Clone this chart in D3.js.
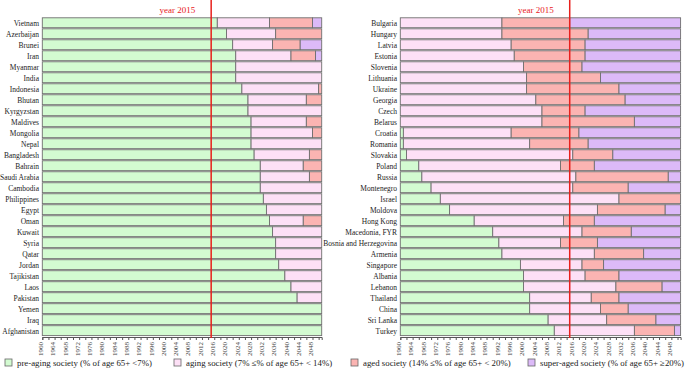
<!DOCTYPE html>
<html>
<head>
<meta charset="utf-8">
<script src="https://cdn.jsdelivr.net/npm/d3@7"></script>
<style>
  body { margin: 0; background: #fff; }
  svg { font-family: "Liberation Serif", "Times New Roman", serif; }
</style>
</head>
<body>
<svg id="canvas" width="685" height="373"></svg>
<script>
// left panel: countries and year each stage begins (null = not reached by 2050)
const leftCountries = ['Vietnam', 'Azerbaijan', 'Brunei', 'Iran', 'Myanmar', 'India', 'Indonesia', 'Bhutan', 'Kyrgyzstan',
  'Maldives', 'Mongolia', 'Nepal', 'Bangladesh', 'Bahrain', 'Saudi Arabia', 'Cambodia', 'Philippines', 'Egypt', 'Oman',
  'Kuwait', 'Syria', 'Qatar', 'Jordan', 'Tajikistan', 'Laos', 'Pakistan', 'Yemen', 'Iraq', 'Afghanistan']
const leftAging = [2017, 2020, 2022, 2023, 2023, 2023, 2025, 2027, 2027, 2028, 2028, 2028, 2029, 2031, 2031, 2031, 2032, 2033, 2034,
  2035, 2036, 2036, 2037, 2039, 2041, 2043, null, null, null]
const leftAged = [2034, 2036, 2035, 2041, null, null, 2050, 2046, null, 2046, 2048, null, 2047, 2045, 2047, null, null, null, 2045,
  null, null, null, null, null, null, null, null, null, null]
const leftSuper = [2048, null, 2044, 2049, null, null, null, null, null, null, null, null, null, null, null, null, null, null, null,
  null, null, null, null, null, null, null, null, null, null]

// right panel
const rightCountries = ['Bulgaria', 'Hungary', 'Latvia', 'Estonia', 'Slovenia', 'Lithuania', 'Ukraine', 'Georgia', 'Czech',
  'Belarus', 'Croatia', 'Romania', 'Slovakia', 'Poland', 'Russia', 'Montenegro', 'Israel', 'Moldova', 'Hong Kong',
  'Macedonia, FYR', 'Bosnia and Herzegovina', 'Armenia', 'Singapore', 'Albania', 'Lebanon', 'Thailand', 'China', 'Sri Lanka', 'Turkey']
const rightAging = [1960, 1960, 1960, 1960, 1960, 1960, 1960, 1960, 1960, 1960, 1961, 1961, 1962, 1966, 1967, 1970, 1973, 1976, 1984,
  1990, 1992, 1993, 1999, 2000, 2000, 2002, 2002, 2008, 2010]
const rightAged = [1993, 1993, 1996, 1997, 2000, 2001, 2001, 2004, 2006, 2006, 1996, 2002, 2016, 2012, 2017, 2016, 2031, 2024, 2013,
  2019, 2012, 2023, 2019, 2020, 2030, 2022, 2025, 2027, 2036]
const rightSuper = [2015, 2021, 2020, 2020, 2019, 2025, 2031, 2033, 2020, 2036, 2018, 2021, 2029, 2023, 2047, 2034, null, 2046, 2023,
  2035, 2024, 2039, 2026, 2031, 2045, 2031, 2034, 2043, 2049]

const startYear = 1960
const endYear = 2051
const markYear = 2015

const colors = ['#d3fbd1', '#fde0f6', '#fbb4b2', '#dcbaf8']
const legendLabels = ['pre-aging society (% of age 65+ <7%)', 'aging society (7% \u2264% of age 65+ < 14%)',
  'aged society (14% \u2264% of age 65+ < 20%)', 'super-aged society (% of age 65+ \u226520%)']

let canvas = d3.select('#canvas')

let segmentsFor = (aging, aged, sup) => {
  let bounds = [startYear, aging, aged, sup]
  let segs = []
  for (let i = 0; i < 4; i++) {
    let s = bounds[i]
    if (s === null || s === undefined) continue
    let e = endYear
    for (let j = i + 1; j < 4; j++) {
      if (bounds[j] !== null) { e = bounds[j]; break }
    }
    if (e > s) segs.push({ stage: i, start: s, end: e })
  }
  return segs
}

let drawPanel = (countries, aging, aged, sup, x0, x1, labelX) => {
  let x = d3.scaleLinear().domain([startYear, endYear]).range([x0, x1])
  let y = d3.scaleBand().domain(countries).range([17.8, 335.6]).paddingInner(0.1)

  let g = canvas.append('g')

  let rows = g.selectAll('g.row')
    .data(countries)
    .enter()
    .append('g')
    .attr('class', 'row')

  rows.selectAll('rect')
    .data((d, i) => segmentsFor(aging[i], aged[i], sup[i]).map(s => ({ ...s, country: d })))
    .enter()
    .append('rect')
    .attr('x', d => x(d.start))
    .attr('width', d => x(d.end) - x(d.start))
    .attr('y', d => y(d.country))
    .attr('height', y.bandwidth())
    .attr('fill', d => colors[d.stage])
    .attr('stroke', '#6f6f6f')
    .attr('stroke-width', 0.9)

  g.selectAll('text.country')
    .data(countries)
    .enter()
    .append('text')
    .attr('class', 'country')
    .attr('x', labelX)
    .attr('y', d => y(d) + y.bandwidth() / 2 + 3)
    .attr('text-anchor', 'end')
    .attr('font-size', 7.5)
    .attr('fill', '#222')
    .text(d => d)

  // x axis
  let axis = d3.axisBottom(x)
    .tickValues(d3.range(startYear, endYear, 2))
    .tickSize(3)
    .tickFormat(d => d % 4 === 0 ? d : '')
  let ax = g.append('g')
    .attr('transform', 'translate(0,337)')
    .call(axis)
  ax.select('.domain').attr('stroke', '#555')
  ax.selectAll('.tick line').attr('stroke', '#555')
  ax.selectAll('.tick text')
    .attr('font-family', '"Liberation Serif", serif')
    .attr('font-size', 7)
    .attr('fill', '#444')
    .attr('transform', 'rotate(-90)')
    .attr('text-anchor', 'end')
    .attr('x', -5)
    .attr('y', -2)
    .attr('dy', '0.32em')

  // year 2015 line
  g.append('line')
    .attr('x1', x(markYear))
    .attr('x2', x(markYear))
    .attr('y1', 0)
    .attr('y2', 338)
    .attr('stroke', '#e8201c')
    .attr('stroke-width', 1.5)

  g.append('text')
    .attr('x', x(markYear) - 16)
    .attr('y', 13)
    .attr('text-anchor', 'end')
    .attr('font-size', 9)
    .attr('fill', '#e8201c')
    .text('year ' + markYear)
}

let drawLegend = () => {
  let xs = [5, 174, 351, 528]
  let lg = canvas.append('g')
  lg.selectAll('rect')
    .data(colors)
    .enter()
    .append('rect')
    .attr('x', (d, i) => xs[i])
    .attr('y', 359)
    .attr('width', 7)
    .attr('height', 7)
    .attr('fill', d => d)
    .attr('stroke', '#666')
    .attr('stroke-width', 0.8)

  lg.selectAll('text')
    .data(legendLabels)
    .enter()
    .append('text')
    .attr('x', (d, i) => xs[i] + 12)
    .attr('y', 366)
    .attr('font-size', 8.8)
    .attr('fill', '#222')
    .text(d => d)
}

drawPanel(leftCountries, leftAging, leftAged, leftSuper, 42.3, 321.7, 39)
drawPanel(rightCountries, rightAging, rightAged, rightSuper, 400.3, 680.6, 397)
drawLegend()
</script>
</body>
</html>
